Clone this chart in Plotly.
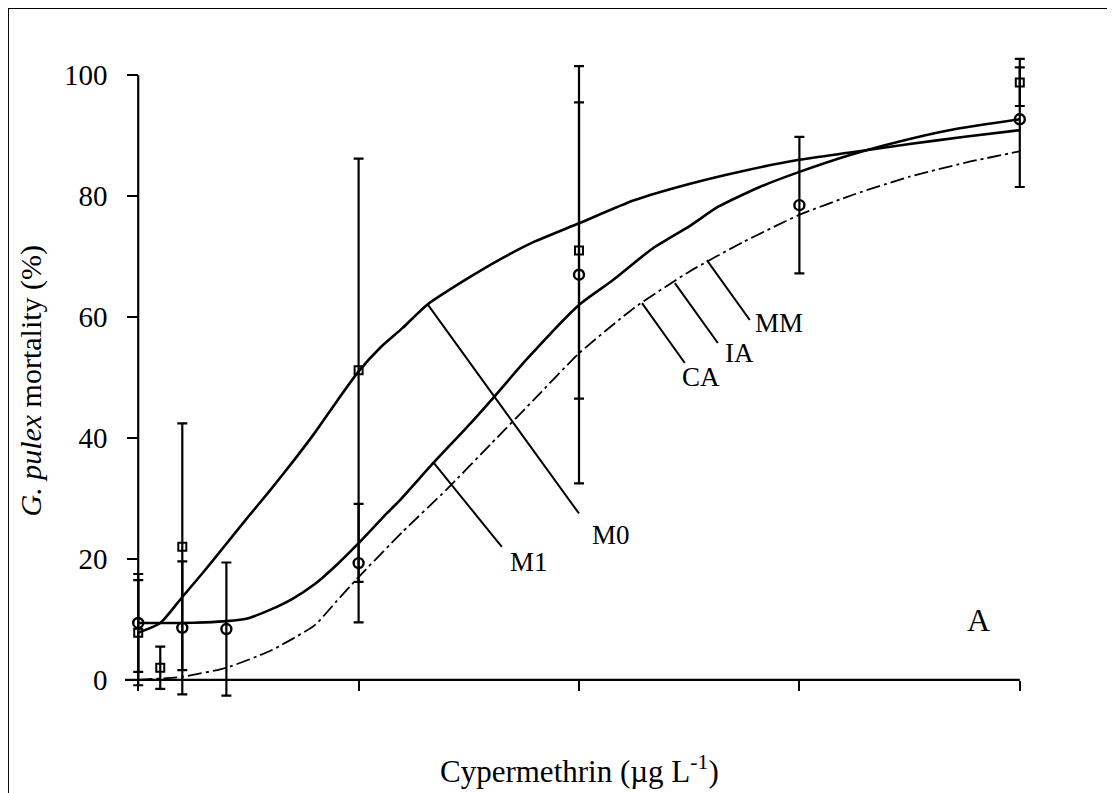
import plotly.graph_objects as go

# ---- data ----
sq_x = [0, 0.1, 0.2, 1, 2, 4]
sq_y = [7.8, 2.0, 22.0, 51.2, 71.0, 98.8]
sq_err = [8.7, 3.5, 20.4, 35.0, 24.5, 3.9]

ci_x = [0, 0.2, 0.4, 1, 2, 3, 4]
ci_y = [9.4, 8.6, 8.4, 19.3, 67.0, 78.5, 92.7]
ci_err_plus = [8.1, 11.0, 11.0, 9.8, 34.5, 11.3, 8.6]
ci_err_minus = [8.1, 11.0, 11.0, 9.8, 34.5, 11.3, 11.2]

m0_x = [0, 0.1, 0.2, 0.3, 0.4, 0.5, 0.6, 0.7, 0.8, 0.9, 1.0, 1.1, 1.2, 1.31, 1.5, 1.64, 1.8, 2.0, 2.25, 2.5, 2.75, 3.0, 3.23, 3.5, 3.75, 4.0]
m0_y = [7.8, 9.4, 13.7, 18.0, 22.5, 27.0, 31.4, 36.0, 40.8, 46.0, 51.0, 55.0, 58.2, 62.0, 66.5, 69.5, 72.5, 75.5, 79.3, 82.0, 84.2, 86.0, 87.2, 88.6, 89.8, 90.9]

m1_x = [0, 0.1, 0.2, 0.3, 0.4, 0.5, 0.6, 0.7, 0.8, 0.9, 1.0, 1.13, 1.19, 1.34, 1.51, 1.62, 1.76, 2.0, 2.15, 2.34, 2.5, 2.63, 2.82, 3.0, 3.23, 3.45, 3.68, 4.0]
m1_y = [9.4, 9.4, 9.4, 9.5, 9.7, 10.2, 11.6, 13.4, 15.8, 19.0, 22.6, 27.6, 29.8, 35.9, 42.5, 47.0, 52.9, 62.0, 66.0, 71.5, 75.0, 78.2, 81.5, 84.0, 86.8, 89.0, 90.9, 92.7]

ca_x = [0, 0.2, 0.4, 0.6, 0.8, 0.9, 1.0, 1.2, 1.4, 1.6, 1.8, 2.0, 2.25, 2.5, 2.75, 3.0, 3.25, 3.5, 3.75, 4.0]
ca_y = [0, 0.5, 2.0, 4.8, 9.0, 13.0, 17.0, 24.5, 31.5, 39.0, 46.5, 54.0, 61.5, 67.5, 72.5, 76.9, 80.3, 83.2, 85.5, 87.4]

x_ticks = [0, 1, 2, 3, 4]
y_ticks = [0, 20, 40, 60, 80, 100]

# labels: text, leader start (x, y), leader end (x, y), text anchor (x, y)
labels = ["M0", "M1", "CA", "IA", "MM"]
lead_x0 = [1.315, 1.34, 2.286, 2.435, 2.58]
lead_y0 = [62.0, 35.9, 62.3, 65.6, 69.4]
lead_x1 = [2.0, 1.65, 2.48, 2.63, 2.775]
lead_y1 = [27.5, 22.0, 52.4, 55.7, 59.5]
text_x = [2.05, 1.68, 2.46, 2.655, 2.79]
text_y = [24.0, 19.5, 50.0, 54.0, 59.0]

FONT = "Liberation Serif"
X0, X1 = -0.06, 4.06
Y0, Y1 = -4.0, 103.0

fig = go.Figure()
lw = 2.6
fig.add_trace(go.Scatter(x=ca_x, y=ca_y, mode="lines",
                         line=dict(color="black", width=1.8, dash="14px,4px,3px,4px", shape="spline", smoothing=0.5),
                         showlegend=False, hoverinfo="skip"))
fig.add_trace(go.Scatter(x=m1_x, y=m1_y, mode="lines", line=dict(color="black", width=lw, shape="spline", smoothing=0.6),
                         showlegend=False))
fig.add_trace(go.Scatter(x=m0_x, y=m0_y, mode="lines", line=dict(color="black", width=lw, shape="spline", smoothing=0.6),
                         showlegend=False))
fig.add_trace(go.Scatter(x=sq_x, y=sq_y, mode="markers",
                         marker=dict(symbol="square-open", size=8, color="black", line=dict(width=2)),
                         error_y=dict(type="data", array=sq_err, color="black", thickness=2.2, width=5),
                         cliponaxis=False, showlegend=False))
fig.add_trace(go.Scatter(x=ci_x, y=ci_y, mode="markers",
                         marker=dict(symbol="circle-open", size=10, color="black", line=dict(width=2.4)),
                         error_y=dict(type="data", array=ci_err_plus, arrayminus=ci_err_minus,
                                      color="black", thickness=2.2, width=5),
                         cliponaxis=False, showlegend=False))

# leader lines and labels
for i in range(len(labels)):
    fig.add_shape(type="line", x0=lead_x0[i], y0=lead_y0[i], x1=lead_x1[i], y1=lead_y1[i],
                  xref="x", yref="y", line=dict(color="black", width=2))
    fig.add_annotation(x=text_x[i], y=text_y[i], text=labels[i], showarrow=False,
                       xanchor="left", yanchor="middle", font=dict(family=FONT, size=27, color="black"))

# axis lines
fig.add_shape(type="line", x0=X0, x1=4.0, y0=0, y1=0, xref="x", yref="y", line=dict(color="black", width=2.2))
fig.add_shape(type="line", x0=0, x1=0, y0=0, y1=100, xref="x", yref="y", line=dict(color="black", width=2.2))

fig.add_annotation(x=3.814, y=9.9, text="A", showarrow=False, xref="x", yref="y",
                   font=dict(family=FONT, size=32, color="black"))

fig.add_annotation(x=0.5, y=-0.102, xref="paper", yref="paper", text="Cypermethrin (µg L<sup>-1</sup>)",
                   showarrow=False, xanchor="center", yanchor="middle", font=dict(family=FONT, size=31, color="black"))
fig.add_annotation(x=-0.1046, y=0.5, xref="paper", yref="paper", text="<i>G. pulex</i> mortality (%)",
                   textangle=-90, showarrow=False, xanchor="center", yanchor="middle",
                   font=dict(family=FONT, size=30, color="black"))

# frame
fig.add_shape(type="rect", xref="paper", yref="paper", x0=-0.1289, x1=1.09, y0=-0.16, y1=1.0758,
              line=dict(color="black", width=2))

xpos = (0 - Y0) / (Y1 - Y0)
ypos = (0 - X0) / (X1 - X0)
fig.update_layout(
    width=1115, height=793,
    margin=dict(l=117, r=90, t=49, b=97),
    paper_bgcolor="white", plot_bgcolor="white",
    xaxis=dict(range=[X0, X1], tickvals=x_ticks, showticklabels=False, ticks="outside", ticklen=10,
               tickwidth=2, tickcolor="black", showgrid=False, zeroline=False, showline=False,
               anchor="free", position=xpos),
    yaxis=dict(range=[Y0, Y1], tickvals=y_ticks, ticks="outside", ticklen=11, tickwidth=2, tickcolor="black",
               showgrid=False, zeroline=False, showline=False, anchor="free", position=ypos,
               tickfont=dict(family=FONT, size=29, color="black"), ticklabelstandoff=14),
)
fig.write_html("out.html")
